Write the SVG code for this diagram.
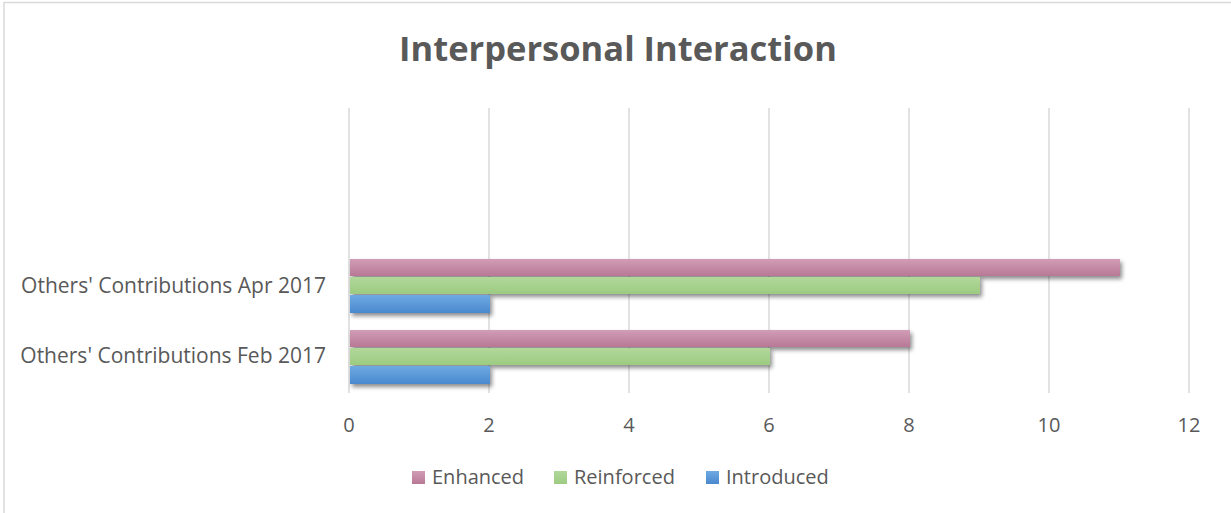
<svg xmlns="http://www.w3.org/2000/svg" width="1231" height="513" viewBox="0 0 1231 513">
  <defs>
    <linearGradient id="gPink" x1="0" y1="0" x2="0" y2="1">
      <stop offset="0" stop-color="#d19db6"/>
      <stop offset="1" stop-color="#b87896"/>
    </linearGradient>
    <linearGradient id="gGreen" x1="0" y1="0" x2="0" y2="1">
      <stop offset="0" stop-color="#b1d89a"/>
      <stop offset="1" stop-color="#9dcb82"/>
    </linearGradient>
    <linearGradient id="gBlue" x1="0" y1="0" x2="0" y2="1">
      <stop offset="0" stop-color="#6ea9e2"/>
      <stop offset="1" stop-color="#4a89cf"/>
    </linearGradient>
    <filter id="shadow" x="-5%" y="-40%" width="115%" height="200%">
      <feDropShadow dx="2" dy="3" stdDeviation="2" flood-color="#000" flood-opacity="0.45"/>
    </filter>
    <style>
      .grid { stroke: #d9d9d9; stroke-width: 1.5; }
      .txt { font-family: "Open Sans", "Liberation Sans", sans-serif; fill: #595959; }
      .title { font-size: 34.5px; font-weight: bold; }
      .cat { font-size: 21px; }
      .tick { font-size: 20px; }
      .leg { font-size: 20px; }
      .pink { fill: url(#gPink); }
      .green { fill: url(#gGreen); }
      .blue { fill: url(#gBlue); }
    </style>
  </defs>

  <!-- chart frame -->
  <rect x="0" y="0" width="1231" height="513" fill="#ffffff"/>
  <rect x="4" y="2.5" width="1250" height="530" fill="none" stroke="#d9d9d9" stroke-width="1.5"/>

  <!-- title -->
  <text id="title" class="txt title" x="618" y="61" text-anchor="middle">Interpersonal Interaction</text>

  <!-- vertical gridlines -->
  <g id="gridlines">
    <line class="grid" x1="349" y1="108" x2="349" y2="393"/>
    <line class="grid" x1="489" y1="108" x2="489" y2="393"/>
    <line class="grid" x1="629" y1="108" x2="629" y2="393"/>
    <line class="grid" x1="769" y1="108" x2="769" y2="393"/>
    <line class="grid" x1="909" y1="108" x2="909" y2="393"/>
    <line class="grid" x1="1049" y1="108" x2="1049" y2="393"/>
    <line class="grid" x1="1189" y1="108" x2="1189" y2="393"/>
  </g>

  <!-- bars: 70 px per unit from x=350 -->
  <g id="series-apr" filter="url(#shadow)">
    <rect class="pink" x="350" y="259" width="770" height="17"/>
    <rect class="green" x="350" y="277" width="630" height="17"/>
    <rect class="blue" x="350" y="295" width="140" height="18"/>
  </g>
  <g id="series-feb" filter="url(#shadow)">
    <rect class="pink" x="350" y="330" width="560" height="17"/>
    <rect class="green" x="350" y="348" width="420" height="17"/>
    <rect class="blue" x="350" y="366" width="140" height="18"/>
  </g>

  <!-- category labels -->
  <g id="categories" class="txt cat" text-anchor="end">
    <text x="326" y="293">Others' Contributions Apr 2017</text>
    <text x="326" y="363">Others' Contributions Feb 2017</text>
  </g>

  <!-- value axis labels -->
  <g id="axis" class="txt tick" text-anchor="middle">
    <text x="349" y="432">0</text>
    <text x="489" y="432">2</text>
    <text x="629" y="432">4</text>
    <text x="769" y="432">6</text>
    <text x="909" y="432">8</text>
    <text x="1049" y="432">10</text>
    <text x="1189" y="432">12</text>
  </g>

  <!-- legend -->
  <g id="legend">
    <g id="leg-enhanced">
      <rect class="pink" x="412" y="471" width="13" height="13"/>
      <text class="txt leg" x="432" y="484">Enhanced</text>
    </g>
    <g id="leg-reinforced">
      <rect class="green" x="554" y="471" width="13" height="13"/>
      <text class="txt leg" x="574" y="484">Reinforced</text>
    </g>
    <g id="leg-introduced">
      <rect class="blue" x="706" y="471" width="13" height="13"/>
      <text class="txt leg" x="726" y="484">Introduced</text>
    </g>
  </g>
</svg>
